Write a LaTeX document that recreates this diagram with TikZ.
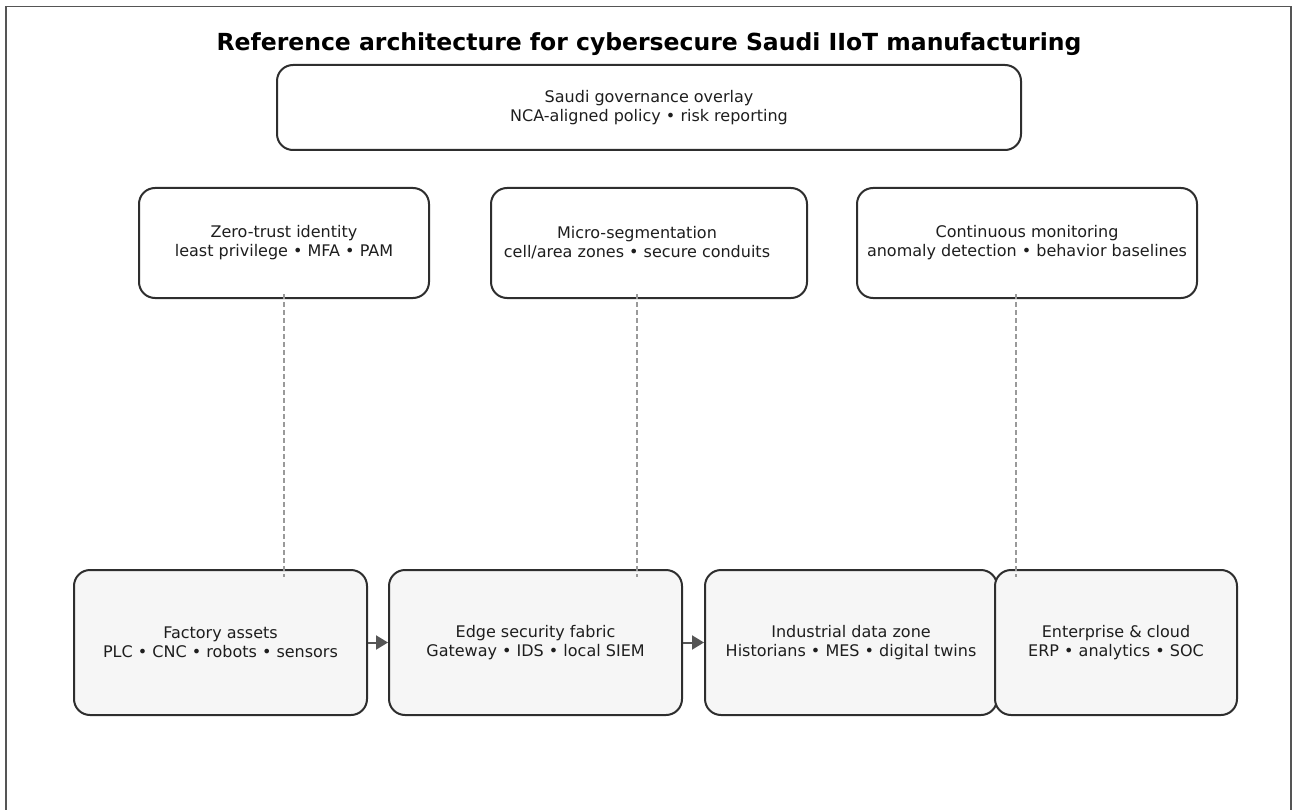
\documentclass[tikz,border=0pt]{standalone}
\usepackage{fontspec}
\setmainfont{DejaVu Sans}
\usetikzlibrary{arrows.meta}
\definecolor{edgecol}{HTML}{2E2E2E}
\definecolor{lightfill}{HTML}{F6F6F6}
\definecolor{dashgray}{HTML}{9A9A9A}
\definecolor{arrowgray}{HTML}{555555}
\definecolor{framegray}{HTML}{555555}
\definecolor{textcol}{HTML}{1E1E1E}
\begin{document}
\begin{tikzpicture}[x=1pt,y=-1pt,
  box/.style={draw=edgecol, line width=2pt, rounded corners=16pt, inner sep=0pt,
    align=center, font=\fontsize{16}{19}\selectfont, text=textcol, fill=white},
  layerbox/.style={box, fill=lightfill},
  plaintext/.style={inner sep=0pt, align=center, font=\fontsize{16}{19}\selectfont, text=textcol},
  dashline/.style={draw=dashgray, line width=1.2pt, dash pattern=on 5pt off 3pt},
  flowarrow/.style={draw=arrowgray, line width=2pt, -{Triangle[length=12pt,width=14pt]}},
  framestyle/.style={draw=framegray, line width=1.5pt}]
\useasboundingbox (0,0) rectangle (1292,810);
\draw[framestyle] (6,810) -- (6,6.5) -- (1291,6.5) -- (1291,810);

\node (title) at (649,44) {\bfseries\fontsize{23.5}{28}\selectfont Reference architecture for cybersecure Saudi IIoT manufacturing};

\node[box, minimum width=744pt, minimum height=85pt] (gov) at (649,107.5)
  {Saudi governance overlay\\NCA-aligned policy • risk reporting};

\node[box, minimum width=290pt, minimum height=110pt] (zt) at (284,243)
  {Zero-trust identity\\least privilege • MFA • PAM};
\node[box, minimum width=316pt, minimum height=110pt] (ms) at (649,243) {};
\node[plaintext] (mstext) at (637,243)
  {Micro-segmentation\\cell/area zones • secure conduits};
\node[box, minimum width=340pt, minimum height=110pt] (cm) at (1027,243)
  {Continuous monitoring\\anomaly detection • behavior baselines};

\node[layerbox, minimum width=293pt, minimum height=145pt] (fa) at (220.5,642.5)
  {Factory assets\\PLC • CNC • robots • sensors};
\node[layerbox, minimum width=293pt, minimum height=145pt] (es) at (535.5,642.5)
  {Edge security fabric\\Gateway • IDS • local SIEM};
\node[layerbox, minimum width=292pt, minimum height=145pt] (iz) at (851,642.5)
  {Industrial data zone\\Historians • MES • digital twins};
\node[layerbox, minimum width=242pt, minimum height=145pt] (ec) at (1116,642.5)
  {Enterprise \& cloud\\ERP • analytics • SOC};

\draw[flowarrow] (fa.east) -- (es.west);
\draw[flowarrow] (es.east) -- (iz.west);

\coordinate (msx) at ([xshift=-12pt]ms.south);
\coordinate (cmx) at ([xshift=-11pt]cm.south);
\draw[dashline] ([yshift=5pt]zt.south) -- ([yshift=-8pt]zt.south |- fa.north);
\draw[dashline] ([yshift=5pt]msx) -- ([yshift=-8pt]msx |- es.north);
\draw[dashline] ([yshift=5pt]cmx) -- ([yshift=-8pt]cmx |- ec.north);
\end{tikzpicture}
\end{document}
